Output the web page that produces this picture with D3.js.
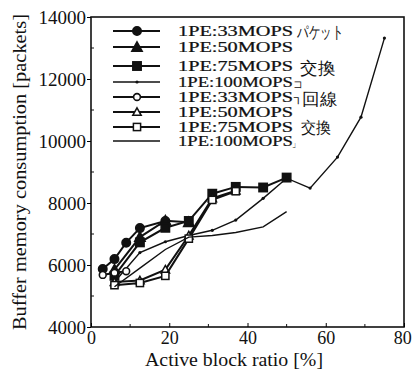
<!DOCTYPE html>
<html>
<head>
<meta charset="utf-8">
<script src="https://cdn.jsdelivr.net/npm/d3@7"></script>
<style>
  body { margin: 0; background: #fff; }
  text { font-family: "Liberation Serif", "Times New Roman", serif; fill: #111; }
</style>
</head>
<body>
<script>
// series: [active block ratio %, buffer packets]
const pkt33 = [[3, 5870], [6, 6190], [9, 6720], [12.5, 7190], [19, 7420]];
const pkt50 = [[6, 5850], [12.5, 6900], [19, 7430], [25, 7380]];
const pkt75 = [[6, 5650], [12.5, 6730], [19, 7200], [25, 7420], [31, 8300], [37, 8520], [44, 8500], [50, 8820]];
const pkt100 = [[6, 5450], [12.5, 6400], [19, 6750], [25, 6950], [31, 7120], [37, 7450], [44, 8150], [50, 8800], [56, 8480], [63, 9480], [69, 10770], [75, 13320]];
const cir33 = [[3, 5680], [6, 5750], [9, 5800]];
const cir50 = [[6, 5450], [12.5, 5500], [19, 5850], [25, 6950], [31, 8150], [37, 8400]];
const cir75 = [[6, 5350], [12.5, 5420], [19, 5650], [25, 6850], [31, 8100], [37, 8380]];
const cir100 = [[6, 5300], [12.5, 5900], [19, 6500], [25, 6900], [31, 6950], [37, 7050], [44, 7230], [50, 7720]];

const seriesNames = ["1PE:33MOPS", "1PE:50MOPS", "1PE:75MOPS", "1PE:100MOPS",
                     "1PE:33MOPS", "1PE:50MOPS", "1PE:75MOPS", "1PE:100MOPS"];
const seriesData = [pkt33, pkt50, pkt75, pkt100, cir33, cir50, cir75, cir100];
const seriesMarks = ["circle", "triangle", "square", "dot", "circle", "triangle", "square", "none"];
const seriesFilled = [true, true, true, true, false, false, false, false];

const xTicks = [0, 20, 40, 60, 80];
const yTicks = [4000, 6000, 8000, 10000, 12000, 14000];

const width = 412, height = 378;
const margin = { top: 17, right: 8, bottom: 51, left: 91 };

const svg = d3.select("body").append("svg")
    .attr("width", width)
    .attr("height", height);

const x = d3.scaleLinear().domain([0, 80]).range([margin.left, width - margin.right]);
const y = d3.scaleLinear().domain([4000, 14000]).range([height - margin.bottom, margin.top]);

// frame
svg.append("rect")
    .attr("x", x(0)).attr("y", y(14000))
    .attr("width", x(80) - x(0)).attr("height", y(4000) - y(14000))
    .attr("fill", "none").attr("stroke", "#111").attr("stroke-width", 1.6);

// axes
const yAxis = svg.append("g")
    .attr("transform", `translate(${x(0)},0)`)
    .call(d3.axisLeft(y).tickValues(yTicks).tickSize(4).tickPadding(1).tickFormat(d3.format("d")));
yAxis.select(".domain").remove();
yAxis.selectAll("text").attr("font-size", 19).attr("fill", "#111")
    .attr("font-family", "Liberation Serif");

const xAxis = svg.append("g")
    .attr("transform", `translate(0,${y(4000)})`)
    .call(d3.axisBottom(x).tickValues(xTicks).tickSize(-4).tickPadding(4));
xAxis.select(".domain").remove();
xAxis.selectAll("text").attr("font-size", 18).attr("fill", "#111")
    .attr("font-family", "Liberation Serif");
xAxis.selectAll(".tick").filter(d => d === 80).select("text").attr("dx", "-0.1em");

// minor ticks
svg.append("g").selectAll("line")
    .data(d3.range(5000, 14000, 2000))
    .join("line")
    .attr("x1", x(0)).attr("x2", x(0) + 3)
    .attr("y1", d => y(d)).attr("y2", d => y(d))
    .attr("stroke", "#111");
svg.append("g").selectAll("line")
    .data(d3.range(10, 80, 20))
    .join("line")
    .attr("x1", d => x(d)).attr("x2", d => x(d))
    .attr("y1", y(4000)).attr("y2", y(4000) - 3)
    .attr("stroke", "#111");

// axis titles
svg.append("text")
    .attr("x", 145).attr("y", 366)
    .attr("font-size", 18)
    .attr("textLength", 178).attr("lengthAdjust", "spacingAndGlyphs")
    .text("Active block ratio [%]");
svg.append("text")
    .attr("transform", `translate(26,${330}) rotate(-90)`)
    .attr("font-size", 19)
    .attr("textLength", 316).attr("lengthAdjust", "spacingAndGlyphs")
    .text("Buffer memory consumption [packets]");

function drawMarker(g, kind, filled, cx, cy) {
  const fill = filled ? "#111" : "#fff";
  if (kind === "circle") {
    g.append("circle").attr("cx", cx).attr("cy", cy).attr("r", filled ? 4.2 : 3.4)
      .attr("fill", fill).attr("stroke", "#111").attr("stroke-width", 1.6);
  } else if (kind === "triangle") {
    const s = filled ? 5.2 : 4.2;
    g.append("path")
      .attr("d", `M${cx},${cy - s}L${cx + s},${cy + s * 0.8}L${cx - s},${cy + s * 0.8}Z`)
      .attr("fill", fill).attr("stroke", "#111").attr("stroke-width", 1.5);
  } else if (kind === "square") {
    const s = filled ? 4.2 : 3.6;
    g.append("rect").attr("x", cx - s).attr("y", cy - s).attr("width", 2 * s).attr("height", 2 * s)
      .attr("fill", fill).attr("stroke", "#111").attr("stroke-width", 1.5);
  } else if (kind === "dot") {
    g.append("circle").attr("cx", cx).attr("cy", cy).attr("r", 1.6).attr("fill", "#111");
  }
}

const line = d3.line().x(d => x(d[0])).y(d => y(d[1]));

seriesData.forEach((data, i) => {
  const g = svg.append("g");
  const thin = seriesMarks[i] === "dot" || seriesMarks[i] === "none";
  g.append("path")
    .datum(data)
    .attr("d", line)
    .attr("fill", "none")
    .attr("stroke", "#111")
    .attr("stroke-width", thin ? 1.4 : 2);
  data.forEach(d => drawMarker(g, seriesMarks[i], seriesFilled[i], x(d[0]), y(d[1])));
});

// legend (text squeezed vertically like the scan)
const legendY = [31, 47, 66, 82, 97, 112, 127, 141];
const legend = svg.append("g");
seriesNames.forEach((name, i) => {
  const ly = legendY[i];
  const thin = seriesMarks[i] === "dot" || seriesMarks[i] === "none";
  legend.append("line")
    .attr("x1", 113).attr("x2", 160).attr("y1", ly).attr("y2", ly)
    .attr("stroke", "#111").attr("stroke-width", thin ? 1.4 : 1.8);
  drawMarker(legend, seriesMarks[i], seriesFilled[i], 137, ly);
  legend.append("text")
    .attr("transform", `translate(178,${ly + 5}) scale(1,0.77)`)
    .attr("font-size", 18)
    .attr("stroke", "#111").attr("stroke-width", 0.3)
    .attr("textLength", 115).attr("lengthAdjust", "spacingAndGlyphs")
    .text(name);
});

// group labels
const jp = "'Noto Sans CJK JP', sans-serif";
const groupLabels = [
  { t: "パケット", x: 297, y: 38, w: 46, s: 17 },
  { t: "交換", x: 300, y: 74, w: 35, s: 17 },
  { t: "コ", x: 293, y: 88, w: 10, s: 11 },
  { t: "┐", x: 294, y: 101, w: 9, s: 11 },
  { t: "回線", x: 302, y: 105, w: 35, s: 17 },
  { t: "交換", x: 301, y: 133, w: 30, s: 16 },
  { t: "」", x: 292, y: 147, w: 8, s: 10 }
];
groupLabels.forEach(d => {
  svg.append("text")
    .attr("x", d.x).attr("y", d.y)
    .attr("font-family", jp).attr("font-size", d.s)
    .attr("textLength", d.w).attr("lengthAdjust", "spacingAndGlyphs")
    .text(d.t);
});
</script>
</body>
</html>
